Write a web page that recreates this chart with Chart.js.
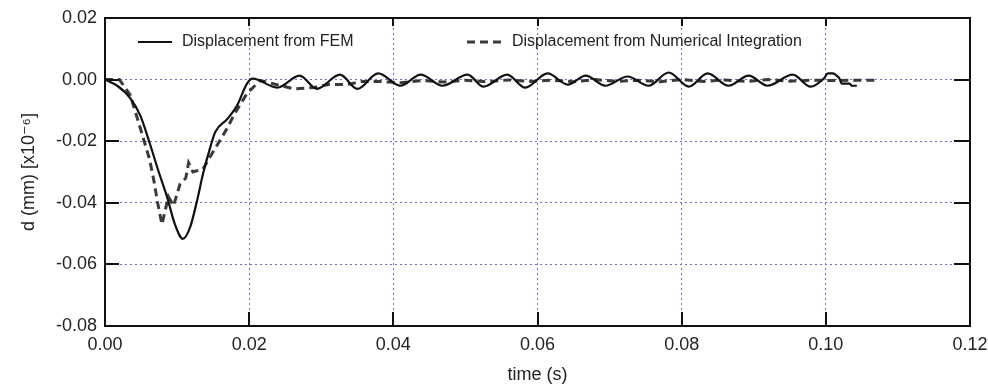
<!DOCTYPE html>
<html>
<head>
<meta charset="utf-8">
<script src="https://cdn.jsdelivr.net/npm/chart.js@4.4.1/dist/chart.umd.min.js"></script>
<style>
  html, body { margin: 0; padding: 0; background: #fff; }
  #wrap { width: 988px; height: 386px; }
</style>
</head>
<body>
<div id="wrap"><canvas id="plot"></canvas></div>
<script>
// FEM displacement (solid)
const femTime = [0, 0.0017, 0.0035, 0.0049, 0.00625, 0.0074, 0.0086, 0.0097, 0.0108, 0.0118,
  0.0128, 0.0136, 0.0146, 0.0153, 0.017, 0.0183, 0.0197, 0.0205, 0.0239, 0.027,
  0.0294, 0.0326, 0.035, 0.0379, 0.041, 0.0438, 0.0468, 0.0503, 0.0525, 0.0558,
  0.0583, 0.0614, 0.0642, 0.0667, 0.0694, 0.0725, 0.0754, 0.0782, 0.081, 0.0836,
  0.0865, 0.0893, 0.0919, 0.0954, 0.0979, 0.0997, 0.1003, 0.101, 0.1015, 0.1019,
  0.1022, 0.1033, 0.1036, 0.1043];
const femDisp = [0, -0.002, -0.006, -0.0117, -0.021, -0.0296, -0.038, -0.047, -0.0517, -0.048,
  -0.039, -0.0306, -0.022, -0.017, -0.0127, -0.0085, -0.0013, 0.0003, -0.0026, 0.0013,
  -0.003, 0.0016, -0.003, 0.002, -0.002, 0.0016, -0.002, 0.0016, -0.0023, 0.0016,
  -0.0026, 0.002, -0.0016, 0.0013, -0.002, 0.001, -0.002, 0.0023, -0.0023, 0.002,
  -0.002, 0.0013, -0.002, 0.0016, -0.0023, 0.0003, 0.002, 0.002, 0.0013, 0.0003,
  -0.0013, -0.0013, -0.002, -0.002];

// Numerical integration displacement (dashed)
const numTime = [0, 0.002, 0.0035, 0.0048, 0.0062, 0.0068, 0.0073, 0.0079, 0.0083, 0.0088,
  0.0095, 0.0104, 0.0112, 0.0116, 0.0122, 0.0136, 0.0146, 0.0155, 0.0169, 0.018,
  0.0197, 0.0215, 0.0262, 0.0289, 0.031, 0.0336, 0.0357, 0.038, 0.041, 0.044,
  0.047, 0.05, 0.053, 0.056, 0.059, 0.062, 0.065, 0.068, 0.071, 0.074,
  0.077, 0.08, 0.083, 0.086, 0.089, 0.092, 0.095, 0.098, 0.101, 0.104, 0.107];
const numDisp = [0, 0, -0.005, -0.015, -0.026, -0.033, -0.04, -0.047, -0.043, -0.038,
  -0.041, -0.034, -0.032, -0.027, -0.03, -0.029, -0.025, -0.0215, -0.016, -0.011,
  -0.0045, -0.0003, -0.003, -0.0026, -0.0016, -0.0016, -0.0006, -0.0006, -0.001, -0.0003,
  -0.0008, -0.0002, -0.0007, -0.0001, -0.0006, -0.0002, -0.0007, 0, -0.0006, -0.0002,
  -0.0007, 0, -0.0006, -0.0001, -0.0006, 0, -0.0005, -0.0002, -0.0003, -0.0002, -0.0002];

const xTicks = [0, 0.02, 0.04, 0.06, 0.08, 0.10, 0.12];
const yTicks = [-0.08, -0.06, -0.04, -0.02, 0.00, 0.02];

const seriesLabels = ['Displacement from FEM', 'Displacement from Numerical Integration'];

const FONT = "'Liberation Sans', Arial, 'DejaVu Sans', sans-serif";

function toPoints(xs, ys) {
  return xs.map((x, i) => ({ x: x, y: ys[i] }));
}

function fmt(v) {
  if (Math.abs(v) < 1e-9) v = 0;
  return v.toFixed(2);
}

// frame, inward ticks and the in-plot legend
const framePlugin = {
  id: 'frame',
  afterDraw(chart) {
    const ctx = chart.ctx;
    const a = chart.chartArea;
    const xs = chart.scales.x, ys = chart.scales.y;
    ctx.save();
    ctx.strokeStyle = '#111';
    ctx.lineWidth = 2;
    ctx.strokeRect(a.left, a.top, a.right - a.left, a.bottom - a.top);
    ctx.beginPath();
    xTicks.forEach(v => {
      const px = Math.round(xs.getPixelForValue(v));
      if (px <= a.left + 1 || px >= a.right - 1) return;
      ctx.moveTo(px, a.bottom); ctx.lineTo(px, a.bottom - 14);
      ctx.moveTo(px, a.top); ctx.lineTo(px, a.top + 8);
    });
    yTicks.forEach(v => {
      const py = Math.round(ys.getPixelForValue(v));
      if (py <= a.top + 1 || py >= a.bottom - 1) return;
      ctx.moveTo(a.left, py); ctx.lineTo(a.left + 14, py);
      ctx.moveTo(a.right, py); ctx.lineTo(a.right - 16, py);
    });
    ctx.stroke();

    // legend
    const ly = 42;
    const items = [
      { x0: 138, x1: 172, tx: 182 },
      { x0: 467, x1: 505, tx: 512 }
    ];
    ctx.font = '16px ' + FONT;
    ctx.textBaseline = 'middle';
    chart.data.datasets.forEach((ds, i) => {
      const it = items[i];
      ctx.strokeStyle = ds.borderColor;
      ctx.lineWidth = ds.borderWidth;
      ctx.setLineDash(ds.borderDash || []);
      ctx.beginPath();
      ctx.moveTo(it.x0, ly); ctx.lineTo(it.x1, ly);
      ctx.stroke();
      ctx.setLineDash([]);
      ctx.fillStyle = '#222';
      ctx.fillText(ds.label, it.tx, ly);
    });
    ctx.restore();
  }
};

const ctx = document.getElementById('plot').getContext('2d');
new Chart(ctx, {
  type: 'line',
  data: {
    datasets: [
      {
        label: seriesLabels[0],
        data: toPoints(femTime, femDisp),
        borderColor: '#111',
        borderWidth: 2.2,
        pointRadius: 0,
        cubicInterpolationMode: 'monotone',
        fill: false
      },
      {
        label: seriesLabels[1],
        data: toPoints(numTime, numDisp),
        borderColor: '#3a3a3a',
        borderWidth: 3,
        borderDash: [8, 5],
        pointRadius: 0,
        tension: 0,
        fill: false
      }
    ]
  },
  options: {
    responsive: true,
    maintainAspectRatio: false,
    animation: false,
    layout: { padding: { top: 18, right: 18, left: 0, bottom: 0 } },
    plugins: {
      legend: { display: false },
      tooltip: { enabled: false }
    },
    scales: {
      x: {
        type: 'linear',
        min: 0,
        max: 0.12,
        afterBuildTicks(scale) { scale.ticks = xTicks.map(v => ({ value: v })); },
        afterFit(scale) {
          scale.height = 60;
          scale.paddingLeft = 0;
          scale.paddingRight = 0;
        },
        ticks: {
          callback: v => fmt(v),
          color: '#222',
          padding: 8,
          maxRotation: 0,
          font: { size: 18, family: FONT }
        },
        grid: {
          color: '#7070c8',
          lineWidth: 1,
          drawTicks: false
        },
        border: { display: false, dash: [2, 3] },
        title: {
          display: true,
          text: 'time (s)',
          color: '#222',
          padding: { top: 4, bottom: 0 },
          font: { size: 18, family: FONT }
        }
      },
      y: {
        min: -0.08,
        max: 0.02,
        afterBuildTicks(scale) { scale.ticks = yTicks.map(v => ({ value: v })); },
        afterFit(scale) {
          scale.width = 105;
          scale.paddingTop = 0;
          scale.paddingBottom = 0;
        },
        ticks: {
          callback: v => fmt(v),
          color: '#222',
          padding: 8,
          font: { size: 18, family: FONT }
        },
        grid: {
          color: '#7070c8',
          lineWidth: 1,
          drawTicks: false
        },
        border: { display: false, dash: [2, 3] },
        title: {
          display: true,
          text: 'd (mm) [x10\u207B\u2076]',
          color: '#222',
          padding: { top: 18, bottom: 0 },
          font: { size: 18, family: FONT }
        }
      }
    }
  },
  plugins: [framePlugin]
});
</script>
</body>
</html>
